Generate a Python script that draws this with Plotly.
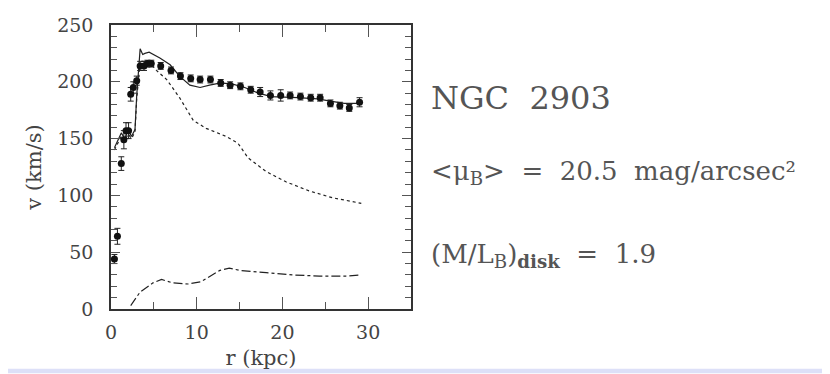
import plotly.graph_objects as go

# observed rotation curve
r_obs = [0.4, 0.75, 1.2, 1.5, 1.75, 2.05, 2.3, 2.6, 3.0, 3.4, 3.85, 4.25, 4.7,
         5.8, 7.0, 8.1, 9.3, 10.4, 11.6, 12.8, 13.9, 15.1, 16.3, 17.4, 18.6,
         19.8, 20.9, 22.1, 23.3, 24.4, 25.6, 26.7, 27.8, 29.0]
v_obs = [44, 64, 128, 149, 157, 157, 189, 195, 201, 214, 214, 216, 216,
         214, 210, 205, 203, 202, 202, 199, 197, 196, 193, 191, 188,
         188, 188, 187, 186, 186, 181, 179, 177, 182]
v_err = [4, 7, 6, 8, 7, 7, 6, 5, 4, 4, 4, 3, 3,
         3, 3, 3, 3, 3, 3, 3, 3, 3, 3, 4, 4,
         5, 3, 3, 3, 3, 3, 3, 3, 4]

# total model
r_tot = [0.4, 0.8, 1.2, 1.6, 2.0, 2.4, 2.8, 3.0, 3.4, 3.7, 3.95, 4.45, 5.7,
         6.9, 8.0, 9.2, 10.4, 11.5, 12.8, 14.2, 15.6, 17.2, 18.7, 21.8, 24.1,
         25.6, 27.2, 29.2]
v_tot = [142, 148, 155, 150, 157, 152, 158, 188, 229, 224, 225, 226, 221,
         215, 205, 197, 195, 197, 199, 198, 195, 190, 187, 186, 185,
         183, 181, 181]

# disk
r_disk = [0.4, 0.8, 1.2, 1.6, 2.0, 2.4, 2.8, 3.0, 3.4, 3.9, 4.5, 5.3, 6.5,
          8.0, 9.6, 11.1, 13.4, 14.8, 16.0, 18.1, 20.4, 23.1, 25.8, 29.2]
v_disk = [140, 146, 152, 148, 154, 150, 156, 185, 218, 218, 217, 210, 202,
          186, 166, 159, 152, 146, 133, 121, 112, 104, 98, 93]

# gas
r_gas = [2.3, 3.4, 4.9, 5.9, 7.2, 9.0, 10.5, 12.7, 13.8, 15.0, 18.1, 21.2,
         24.3, 27.4, 29.2]
v_gas = [3, 15, 23, 26, 23, 22, 24, 34, 36, 34, 32, 30, 29, 29, 30]

line_col = "#222"
fig = go.Figure()
fig.add_trace(go.Scatter(x=r_disk, y=v_disk, mode="lines",
                         line=dict(color=line_col, width=1.2, dash="dot")))
fig.add_trace(go.Scatter(x=r_gas, y=v_gas, mode="lines",
                         line=dict(color=line_col, width=1.2, dash="dashdot")))
fig.add_trace(go.Scatter(x=r_tot, y=v_tot, mode="lines",
                         line=dict(color=line_col, width=1.2)))
fig.add_trace(go.Scatter(x=r_obs, y=v_obs, mode="markers",
                         marker=dict(color="#111", size=7),
                         error_y=dict(type="data", array=v_err, color=line_col,
                                      thickness=1, width=3)))

tick_font = dict(family="DejaVu Serif", size=19, color="#444")
title_font = dict(family="DejaVu Serif", size=21, color="#444")
common = dict(showline=True, linecolor="#333", linewidth=1.5, mirror="allticks",
              ticks="inside", tickcolor="#555", tickwidth=1.2,
              showgrid=False, zeroline=False, tickfont=tick_font,
              ticklabeloverflow="allow")
fig.update_xaxes(range=[0, 35], tickvals=[0, 10, 20, 30], ticklen=12,
                 ticklabelstandoff=5,
                 minor=dict(ticks="inside", tickvals=[5, 15, 25], ticklen=7,
                            tickcolor="#555"),
                 title=dict(text="r (kpc)", font=title_font, standoff=9), **common)
fig.update_yaxes(range=[0, 250], tickvals=[0, 50, 100, 150, 200, 250], ticklen=9,
                 ticklabelstandoff=12,
                 minor=dict(ticks="inside", dtick=10, ticklen=6, tickcolor="#555"),
                 title=dict(text="v (km/s)", font=title_font, standoff=10), **common)

txt = dict(family="DejaVu Serif", color="#555")
fig.add_annotation(x=1.06, y=0.742, xref="paper", yref="paper", xanchor="left",
                   yanchor="middle", text="NGC  2903", showarrow=False,
                   font=dict(size=32, **txt))
fig.add_annotation(x=1.06, y=0.48, xref="paper", yref="paper", xanchor="left",
                   yanchor="middle",
                   text="<μ<sub>B</sub>>  =  20.5  mag/arcsec²", showarrow=False,
                   font=dict(size=26, **txt))
fig.add_annotation(x=1.06, y=0.19, xref="paper", yref="paper", xanchor="left",
                   yanchor="middle",
                   text="(M/L<sub>B</sub>)<sub><b>disk</b></sub>  =  1.9", showarrow=False,
                   font=dict(size=26, **txt))

# lavender page rule at the bottom
fig.add_shape(type="rect", xref="paper", yref="paper", x0=-0.5, x1=2.5,
              y0=-0.226, y1=-0.21, line=dict(width=0), fillcolor="#dde0f8")

# margins allow for the 8px page margin around the plot div
fig.update_layout(width=830, height=374, showlegend=False,
                  margin=dict(l=103, r=427, t=6, b=73),
                  plot_bgcolor="white", paper_bgcolor="white")
fig.write_html("out.html")
